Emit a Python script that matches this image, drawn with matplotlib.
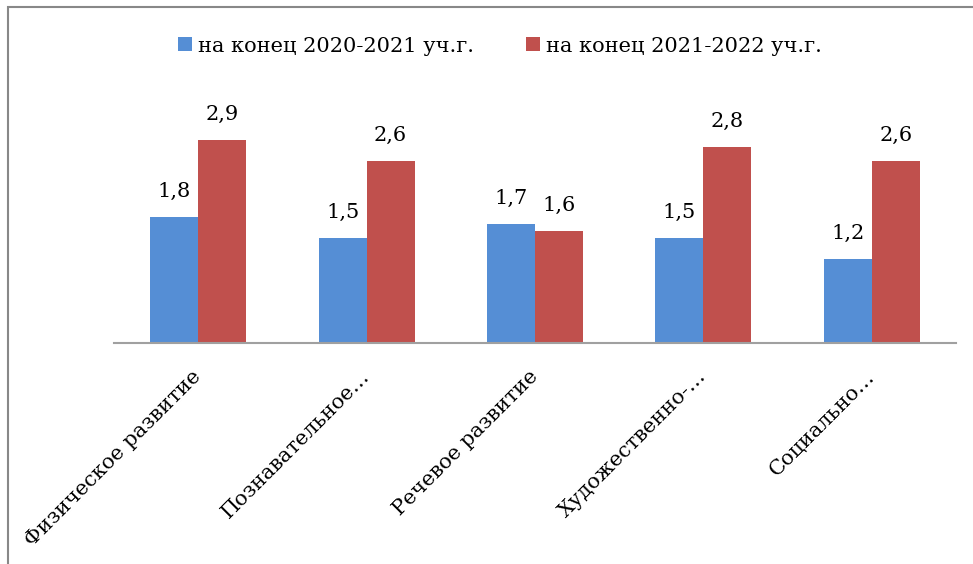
import matplotlib.pyplot as plt
import numpy as np
from matplotlib.patches import Rectangle

categories = ["Физическое развитие", "Познавательное…", "Речевое развитие",
              "Художественно-…", "Социально…"]
series_names = ["на конец 2020-2021 уч.г.", "на конец 2021-2022 уч.г."]
values_2021 = [1.8, 1.5, 1.7, 1.5, 1.2]
values_2022 = [2.9, 2.6, 1.6, 2.8, 2.6]

blue = "#558ED5"
red = "#C0504D"

plt.rcParams['font.family'] = ['DejaVu Serif']

fig = plt.figure(figsize=(9.73, 5.64), dpi=100)
ax = fig.add_axes([114 / 973, 1 - 343 / 564, 842 / 973, 280 / 564])

x = np.arange(len(categories))
w = 0.285
b1 = ax.bar(x - w / 2, values_2021, w, color=blue, label=series_names[0])
b2 = ax.bar(x + w / 2, values_2022, w, color=red, label=series_names[1])

for bars, vals in [(b1, values_2021), (b2, values_2022)]:
    for bar, v in zip(bars, vals):
        ax.annotate(str(v).replace('.', ','),
                    (bar.get_x() + bar.get_width() / 2, v),
                    xytext=(0, 16), textcoords='offset pixels',
                    ha='center', va='bottom', fontsize=15)

ax.set_xlim(-0.5, 4.5)
ax.set_ylim(0, 4.0)
ax.set_yticks([])
for s in ['top', 'right', 'left']:
    ax.spines[s].set_visible(False)
ax.spines['bottom'].set_color('#A0A0A0')
ax.spines['bottom'].set_linewidth(1.5)

ax.set_xticks(x)
ax.set_xticklabels(categories, rotation=45, ha='right', va='center',
                   rotation_mode='anchor', fontsize=15)
ax.tick_params(axis='x', length=0, pad=22)

ax.legend(loc='center', bbox_to_anchor=(500 / 973, 1 - 46 / 564),
          bbox_transform=fig.transFigure, ncol=2, frameon=False,
          fontsize=15, handlelength=0.65, handleheight=0.65,
          handletextpad=0.3, columnspacing=2.5)

fig.patches.append(Rectangle((8 / 973, -0.1), 1.2, 1 - 7 / 564 + 0.1,
                             transform=fig.transFigure, fill=False,
                             edgecolor='#888888', linewidth=1.5))

fig.savefig("out.png", dpi=100)
